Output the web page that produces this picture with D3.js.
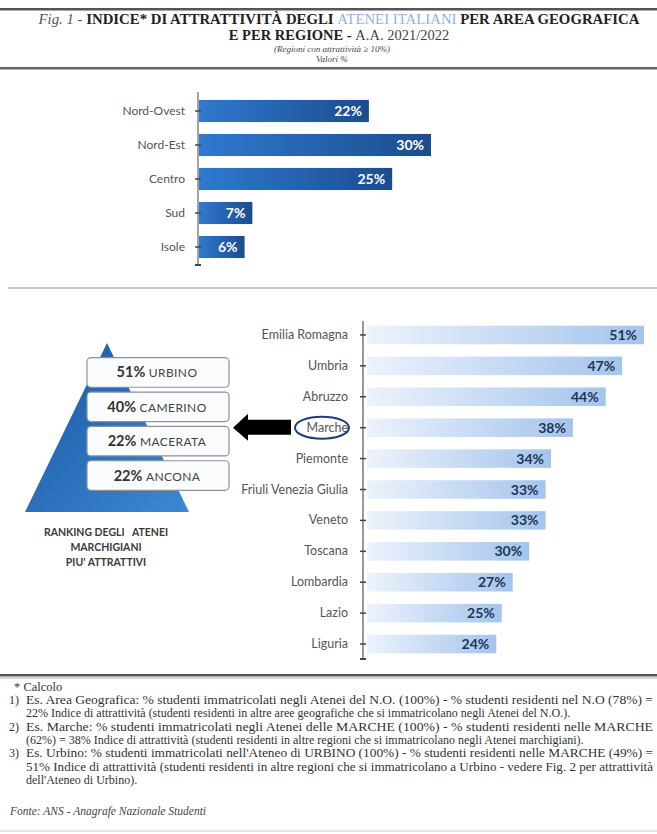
<!DOCTYPE html>
<html>
<head>
<meta charset="utf-8">
<title>Indice di attrattività degli atenei italiani</title>
<script src="https://d3js.org/d3.v7.min.js"></script>
<style type="text/css">
    body { margin: 0; background: #fff; }
    svg { display: block; }
    .lab { font-family: Lato, "Open Sans", sans-serif; fill: #555; }
    .serif { font-family: "Liberation Serif", "DejaVu Serif", serif; }
</style>
</head>
<body>
<script type="text/javascript">
    // area geografica
    let areas = ["Nord-Ovest", "Nord-Est", "Centro", "Sud", "Isole"];
    let areaValues = [22, 30, 25, 7, 6];

    // regioni con attrattività >= 10%
    let regions = ["Emilia Romagna", "Umbria", "Abruzzo", "Marche", "Piemonte",
        "Friuli Venezia Giulia", "Veneto", "Toscana", "Lombardia", "Lazio", "Liguria"];
    let regionValues = [51, 47, 44, 38, 34, 33, 33, 30, 27, 25, 24];

    // ranking atenei marchigiani
    let atenei = ["URBINO", "CAMERINO", "MACERATA", "ANCONA"];
    let ateneiValues = [51, 40, 22, 22];

    // note: [numero, testo, giustificata]
    let notes = [
        ["1)", "Es. Area Geografica: % studenti immatricolati negli Atenei del N.O. (100%) - % studenti residenti nel N.O (78%) =", true],
        ["", "22% Indice di attrattività (studenti residenti in altre aree geografiche che si immatricolano negli Atenei del N.O.).", false],
        ["2)", "Es. Marche: % studenti immatricolati negli Atenei delle MARCHE (100%) - % studenti residenti nelle MARCHE", true],
        ["", "(62%) = 38% Indice di attrattività (studenti residenti in altre regioni che si immatricolano negli Atenei marchigiani).", false],
        ["3)", "Es. Urbino: % studenti immatricolati nell'Ateneo di URBINO (100%) - % studenti residenti nelle MARCHE (49%) =", true],
        ["", "51% Indice di attrattività (studenti residenti in altre regioni che si immatricolano a Urbino - vedere Fig. 2 per attrattività", true],
        ["", "dell'Ateneo di Urbino).", false]
    ];

    let width = 657, height = 834;

    let svg = d3.select("body").append("svg")
        .attr("width", width)
        .attr("height", height);

    let defs = svg.append("defs");
    let g1 = defs.append("linearGradient").attr("id", "gradTop");
    g1.append("stop").attr("offset", "0%").attr("stop-color", "#2f79cf");
    g1.append("stop").attr("offset", "100%").attr("stop-color", "#1c4c8e");
    let g2 = defs.append("linearGradient").attr("id", "gradReg");
    g2.append("stop").attr("offset", "0%").attr("stop-color", "#edf3fc");
    g2.append("stop").attr("offset", "100%").attr("stop-color", "#a4c4ec");
    let g3 = defs.append("linearGradient").attr("id", "gradPyr")
        .attr("x1", "0").attr("y1", "0").attr("x2", "1").attr("y2", "1");
    g3.append("stop").attr("offset", "0%").attr("stop-color", "#1a56a0");
    g3.append("stop").attr("offset", "100%").attr("stop-color", "#3c88d4");

    // ---- header ----
    svg.append("rect").attr("x", 0).attr("y", 8).attr("width", width).attr("height", 2.5).attr("fill", "#555");
    svg.append("rect").attr("x", 0).attr("y", 67).attr("width", width).attr("height", 2.5).attr("fill", "#666");

    let t1 = svg.append("text").attr("class", "serif")
        .attr("x", 339).attr("y", 24).attr("text-anchor", "middle")
        .style("font-size", "14.8px").attr("fill", "#222");
    t1.append("tspan").style("font-style", "italic").style("font-weight", "normal").attr("fill", "#555").text("Fig. 1 - ");
    t1.append("tspan").style("font-weight", "bold").text("INDICE* DI ATTRATTIVITÀ DEGLI ");
    t1.append("tspan").attr("fill", "#8fb3e3").text("ATENEI ITALIANI ");
    t1.append("tspan").style("font-weight", "bold").text("PER AREA GEOGRAFICA");

    let t2 = svg.append("text").attr("class", "serif")
        .attr("x", 339).attr("y", 40).attr("text-anchor", "middle")
        .style("font-size", "14.5px").attr("fill", "#222");
    t2.append("tspan").style("font-weight", "bold").text("E PER REGIONE - ");
    t2.append("tspan").attr("fill", "#444").text("A.A. 2021/2022");

    svg.append("text").attr("class", "serif")
        .attr("x", 332).attr("y", 52).attr("text-anchor", "middle")
        .style("font-size", "9px").style("font-style", "italic").attr("fill", "#444")
        .text("(Regioni con attrattività ≥ 10%)");
    svg.append("text").attr("class", "serif")
        .attr("x", 332).attr("y", 62).attr("text-anchor", "middle")
        .style("font-size", "9px").style("font-style", "italic").attr("fill", "#444")
        .text("Valori %");

    // ---- top chart: area geografica ----
    let x1 = d3.scaleLinear().domain([0, 30]).range([198, 431]);
    let y1 = d3.scaleBand().domain(areas).range([94, 264]).paddingInner(0.35).paddingOuter(0.175);

    let ax1 = svg.append("g").attr("transform", "translate(198,0)")
        .call(d3.axisLeft(y1).tickSize(0).tickPadding(13));
    ax1.select(".domain").remove();
    ax1.selectAll("text").attr("class", "lab").style("font-size", "12px");

    svg.selectAll(".barTop").data(areas).enter().append("rect")
        .attr("class", "barTop")
        .attr("x", x1(0) + 1)
        .attr("y", d => y1(d))
        .attr("width", (d, i) => x1(areaValues[i]) - x1(0) - 1)
        .attr("height", y1.bandwidth())
        .attr("fill", "url(#gradTop)");

    svg.selectAll(".valTop").data(areas).enter().append("text")
        .attr("class", "valTop")
        .attr("x", (d, i) => x1(areaValues[i]) - 7)
        .attr("y", d => y1(d) + y1.bandwidth() / 2 + 5)
        .attr("text-anchor", "end")
        .style("font-family", "Lato, sans-serif").style("font-size", "14px").style("font-weight", "bold")
        .attr("fill", "#fff")
        .text((d, i) => areaValues[i] + "%");

    svg.append("line").attr("x1", 198).attr("x2", 198).attr("y1", 92).attr("y2", 266)
        .attr("stroke", "#666").attr("stroke-width", 1.2);
    svg.selectAll(".tk1").data(areas).enter().append("line")
        .attr("x1", 195).attr("x2", 201)
        .attr("y1", d => y1(d) + y1.bandwidth() / 2).attr("y2", d => y1(d) + y1.bandwidth() / 2)
        .attr("stroke", "#444").attr("stroke-width", 1.5);
    svg.append("line").attr("x1", 195).attr("x2", 201).attr("y1", 265).attr("y2", 265)
        .attr("stroke", "#444").attr("stroke-width", 2);

    // separator
    svg.append("line").attr("x1", 8).attr("x2", width).attr("y1", 288).attr("y2", 288)
        .attr("stroke", "#c8c8c8").attr("stroke-width", 2);

    // ---- bottom chart: regioni ----
    let x2 = d3.scaleLinear().domain([0, 51]).range([365, 644]);
    let y2 = d3.scaleBand().domain(regions).range([319.5, 659.5]).paddingInner(0.4).paddingOuter(0.2);

    let ax2 = svg.append("g").attr("transform", "translate(363,0)")
        .call(d3.axisLeft(y2).tickSize(0).tickPadding(15));
    ax2.select(".domain").remove();
    ax2.selectAll("text").attr("class", "lab").style("font-size", "12.5px");

    svg.selectAll(".barReg").data(regions).enter().append("rect")
        .attr("class", "barReg")
        .attr("x", x2(0) + 2)
        .attr("y", d => y2(d))
        .attr("width", (d, i) => x2(regionValues[i]) - x2(0) - 2)
        .attr("height", y2.bandwidth())
        .attr("fill", "url(#gradReg)");

    svg.selectAll(".valReg").data(regions).enter().append("text")
        .attr("class", "valReg")
        .attr("x", (d, i) => x2(regionValues[i]) - 7)
        .attr("y", d => y2(d) + y2.bandwidth() / 2 + 5)
        .attr("text-anchor", "end")
        .style("font-family", "Lato, sans-serif").style("font-size", "14px").style("font-weight", "bold")
        .attr("fill", "#1e3556")
        .text((d, i) => regionValues[i] + "%");

    svg.append("line").attr("x1", 363).attr("x2", 363).attr("y1", 321).attr("y2", 660)
        .attr("stroke", "#555").attr("stroke-width", 1.2);
    svg.selectAll(".tk2").data(regions).enter().append("line")
        .attr("x1", 360).attr("x2", 366)
        .attr("y1", d => y2(d) + y2.bandwidth() / 2).attr("y2", d => y2(d) + y2.bandwidth() / 2)
        .attr("stroke", "#444").attr("stroke-width", 1.5);
    svg.append("line").attr("x1", 360).attr("x2", 366).attr("y1", 659).attr("y2", 659)
        .attr("stroke", "#444").attr("stroke-width", 2);

    // Marche evidenziata
    let yM = y2("Marche") + y2.bandwidth() / 2;
    svg.append("ellipse").attr("cx", 322).attr("cy", yM).attr("rx", 27).attr("ry", 11)
        .attr("fill", "none").attr("stroke", "#1f3d7a").attr("stroke-width", 2);

    // freccia
    svg.append("path")
        .attr("d", `M233,${yM} L248,${yM - 14} L248,${yM - 8} L291,${yM - 8} L291,${yM + 7} L248,${yM + 7} L248,${yM + 13} Z`)
        .attr("fill", "#000");

    // ---- piramide ranking atenei ----
    svg.append("path").attr("d", "M107,343 L189,512 L25,512 Z").attr("fill", "url(#gradPyr)");

    let yb = d3.scaleBand().domain(atenei).range([356, 492]).paddingInner(0.14).paddingOuter(0.05);
    let boxes = svg.selectAll(".box").data(atenei).enter().append("g").attr("class", "box");
    boxes.append("rect")
        .attr("x", 87).attr("y", d => yb(d))
        .attr("width", 142).attr("height", yb.bandwidth())
        .attr("rx", 4)
        .attr("fill", "#fbfcfe").attr("stroke", "#8a929c").attr("stroke-width", 1.2);
    let bt = boxes.append("text")
        .attr("x", 157).attr("y", d => yb(d) + yb.bandwidth() / 2 + 5)
        .attr("text-anchor", "middle")
        .style("font-family", "Lato, sans-serif").attr("fill", "#333");
    bt.append("tspan").style("font-weight", "bold").style("font-size", "14.5px")
        .text((d, i) => ateneiValues[i] + "% ");
    bt.append("tspan").style("font-size", "12px").style("letter-spacing", "0.4px").attr("fill", "#444").text(d => d);

    let cap = ["RANKING DEGLI   ATENEI", "MARCHIGIANI", "PIU' ATTRATTIVI"];
    svg.selectAll(".cap").data(cap).enter().append("text")
        .attr("x", 106).attr("y", (d, i) => 536 + i * 15)
        .attr("text-anchor", "middle")
        .style("font-family", "Lato, sans-serif").style("font-size", "10.5px").style("font-weight", "bold")
        .style("white-space", "pre").attr("xml:space", "preserve")
        .attr("fill", "#3a3a3a")
        .text(d => d);

    // ---- note ----
    svg.append("rect").attr("x", 0).attr("y", 674).attr("width", width).attr("height", 2.5).attr("fill", "#555");
    svg.append("line").attr("x1", 0).attr("x2", width).attr("y1", 678).attr("y2", 678).attr("stroke", "#aaa");

    svg.append("text").attr("class", "serif").attr("x", 14).attr("y", 691)
        .style("font-size", "12.5px").attr("fill", "#333").text("* Calcolo");

    notes.forEach((n, i) => {
        let yy = 704 + i * 13.3;
        if (n[0]) svg.append("text").attr("class", "serif").attr("x", 9).attr("y", yy)
            .style("font-size", "12px").attr("fill", "#333").text(n[0]);
        let t = svg.append("text").attr("class", "serif").attr("x", 26).attr("y", yy)
            .style("font-size", "12px").attr("fill", "#333").text(n[1]);
        if (n[2]) t.attr("textLength", 627).attr("lengthAdjust", "spacingAndGlyphs");
    });

    svg.append("text").attr("class", "serif").attr("x", 10).attr("y", 815)
        .style("font-size", "11.5px").style("font-style", "italic").attr("fill", "#444")
        .text("Fonte: ANS - Anagrafe Nazionale Studenti");
    svg.append("line").attr("x1", 0).attr("x2", width).attr("y1", 831).attr("y2", 831)
        .attr("stroke", "#ccc");
</script>
</body>
</html>
